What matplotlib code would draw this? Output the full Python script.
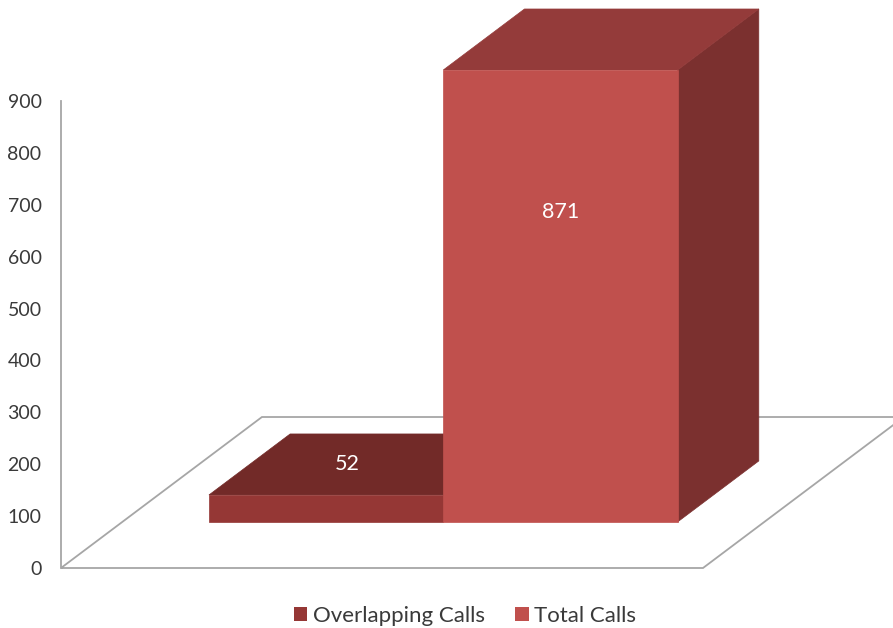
import matplotlib.pyplot as plt
from matplotlib.patches import Patch, Polygon

# chart data
series = ["Overlapping Calls", "Total Calls"]
values = [52, 871]
y_ticks = [0, 100, 200, 300, 400, 500, 600, 700, 800, 900]

front_colors = ["#953735", "#C0504D"]
top_colors = ["#722A28", "#943B3A"]
side_colors = ["#6E2624", "#7B302F"]
grid_color = "#A6A6A6"
text_color = "#3A3A3A"

plt.rcParams["font.family"] = ["Lato", "DejaVu Sans"]

# oblique projection: going the full floor depth moves a point right and up
DEPTH_DX = 0.313   # in x units
DEPTH_DV = 291.0   # in value units
BAR_Z = (0.305, 0.709)
BAR_WIDTH = 0.365


def proj(x, v, z):
    return (x + z * DEPTH_DX, v + z * DEPTH_DV)


def draw_box(ax, x0, x1, v1, front, top, side):
    z0, z1 = BAR_Z
    faces = [
        ([proj(x1, 0, z0), proj(x1, 0, z1), proj(x1, v1, z1), proj(x1, v1, z0)], side),
        ([proj(x0, v1, z0), proj(x1, v1, z0), proj(x1, v1, z1), proj(x0, v1, z1)], top),
        ([proj(x0, 0, z0), proj(x1, 0, z0), proj(x1, v1, z0), proj(x0, v1, z0)], front),
    ]
    for pts, color in faces:
        ax.add_patch(Polygon(pts, closed=True, facecolor=color, edgecolor=color,
                             lw=0.5, clip_on=False, zorder=3))


fig = plt.figure(figsize=(8.93, 6.28), dpi=100)
ax = fig.add_axes([61 / 893, 60 / 628, 642 / 893, 467 / 628])
ax.set_xlim(0, 1)
ax.set_ylim(0, 900)

# floor outline
floor = [proj(0, 0, 0), proj(1, 0, 0), proj(1, 0, 1), proj(0, 0, 1)]
ax.add_patch(Polygon(floor, closed=True, fill=False, edgecolor=grid_color,
                     lw=1.3, clip_on=False, zorder=1))

# bars sit side by side around the middle of the floor
n = len(values)
start = 0.5 - n * BAR_WIDTH / 2
for i, val in enumerate(values):
    x0 = start + i * BAR_WIDTH
    x1 = x0 + BAR_WIDTH
    draw_box(ax, x0, x1, val, front_colors[i], top_colors[i], side_colors[i])
    cx = (x0 + x1) / 2
    if val > 200:
        lx, ly = proj(cx, val * 0.685, BAR_Z[0])
    else:
        zm = (BAR_Z[0] + BAR_Z[1]) / 2
        lx, ly = proj(cx - 0.03, val, zm)
    ax.text(lx, ly, str(val), color="white", fontsize=15.5,
            ha="center", va="center", zorder=5)

for side in ["top", "right", "bottom"]:
    ax.spines[side].set_visible(False)
ax.spines["left"].set_color(grid_color)
ax.spines["left"].set_linewidth(1.3)
ax.set_xticks([])
ax.set_yticks(y_ticks)
ax.tick_params(axis="y", length=0, pad=14, labelsize=14, labelcolor=text_color)

handles = [Patch(facecolor=front_colors[i], edgecolor="none", label=series[i])
           for i in range(n)]
fig.legend(handles=handles, loc="center", bbox_to_anchor=(465 / 893, 12 / 628),
           ncol=2, frameon=False, fontsize=16, handlelength=0.62,
           handleheight=0.62, handletextpad=0.25, columnspacing=1.35,
           labelcolor=text_color)

fig.savefig("out.png", dpi=100)
